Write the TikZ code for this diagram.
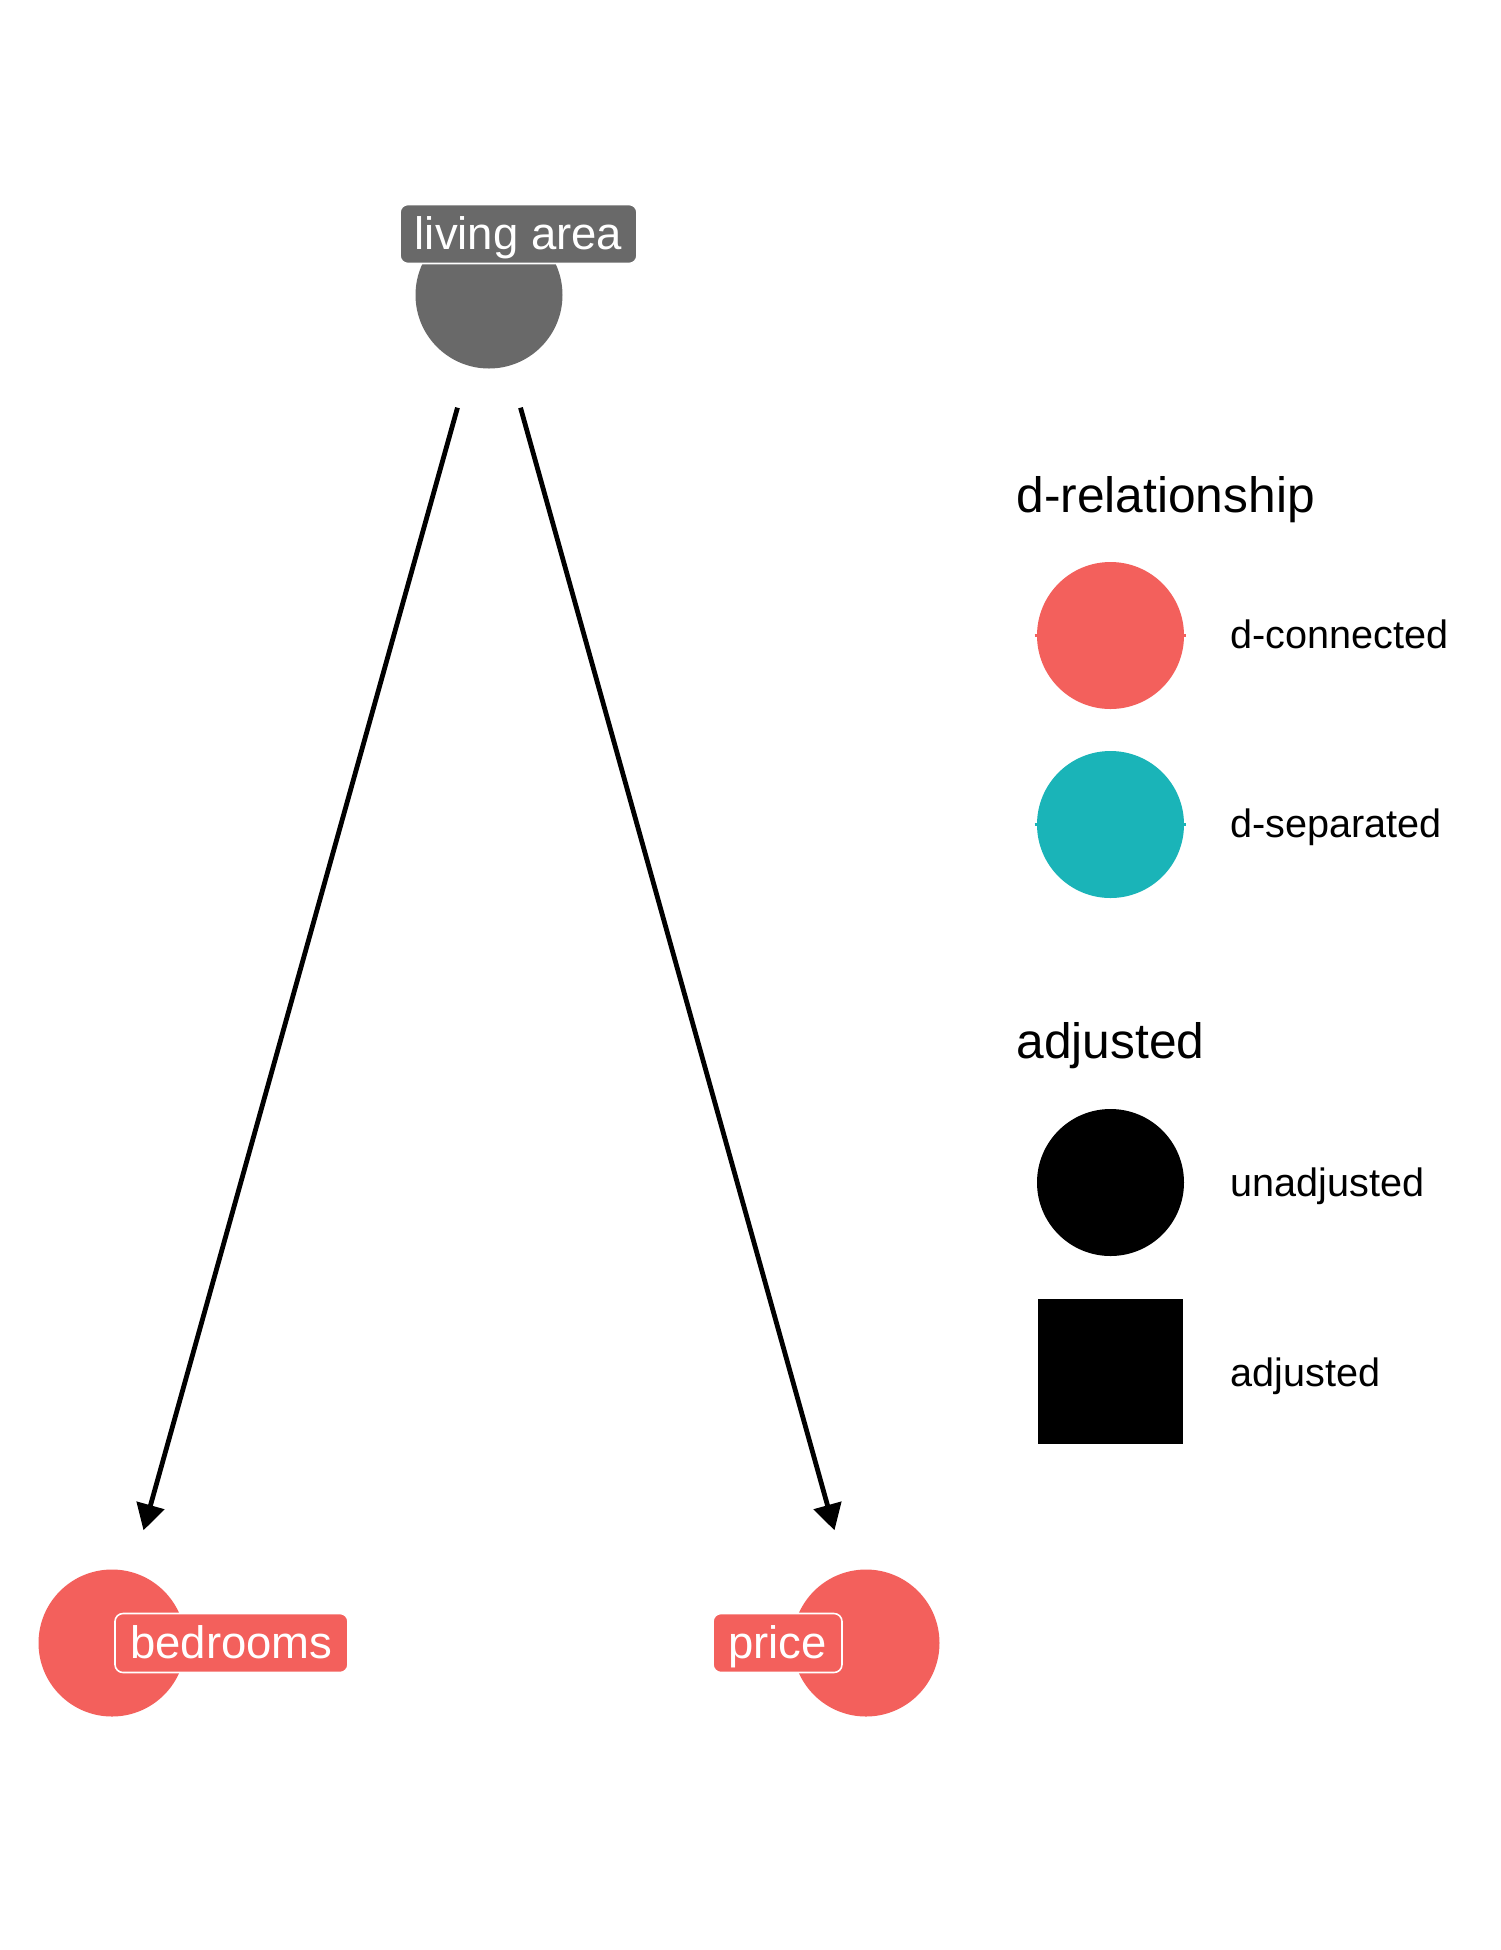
\documentclass[tikz,border=0pt]{standalone}
\usepackage{fontspec}
\setmainfont{Liberation Sans}
\usetikzlibrary{arrows.meta}
\definecolor{dcon}{HTML}{F3605C}
\definecolor{dsep}{HTML}{1AB4B8}
\definecolor{lagrey}{HTML}{696969}
\begin{document}
\begin{tikzpicture}[x=0.5pt,y=-0.5pt,
  dagnode/.style={circle,minimum size=73.5pt,inner sep=0pt,draw=none},
  lbl/.style={rounded corners=4pt,draw=white,line width=0.8pt,text=white,inner sep=0pt,
    minimum height=29.5pt,text height=16.5pt,text depth=1.5pt,
    font=\fontsize{22.75}{26}\selectfont},
  dagedge/.style={line width=2.4pt,-{Triangle[length=13pt,width=14pt]},
    shorten <=58.5pt,shorten >=58.5pt},
  legtitle/.style={anchor=base west,inner sep=0pt,font=\fontsize{24.85}{28}\selectfont},
  leglab/.style={anchor=base west,inner sep=0pt,font=\fontsize{19.8}{23}\selectfont},
  legc/.style={circle,minimum size=73.5pt,inner sep=0pt,draw=none},
  legs/.style={rectangle,minimum size=72.5pt,inner sep=0pt,draw=none,fill=black}
]
\path[use as bounding box,fill=white] (0,0) rectangle (1500,1950);

% DAG nodes
\node[dagnode,fill=lagrey] (la) at (489,295) {};
\node[dagnode,fill=dcon] (br) at (112,1643) {};
\node[dagnode,fill=dcon] (pr) at (866,1643) {};

% edges
\draw[dagedge] (la.center) -- (br.center);
\draw[dagedge] (la.center) -- (pr.center);

% labels
\node[lbl,fill=lagrey,minimum width=118.5pt] (lal) at (518.5,234) {living area};
\node[lbl,fill=dcon,minimum width=116.5pt] (brl) at (231.5,1643) {bedrooms};
\node[lbl,fill=dcon,minimum width=64.5pt] (prl) at (777.5,1643) {price};

% legend: d-relationship
\node[legtitle] (t1) at (1016,512) {d-relationship};
\node[legc,fill=dcon] (k1) at (1110.5,635.5) {};
\draw[dcon,line width=1.5pt] ([xshift=-1pt]k1.west) -- ([xshift=1pt]k1.east);
\node[leglab] (l1) at (1230,648) {d-connected};
\node[legc,fill=dsep] (k2) at (1110.5,824.5) {};
\draw[dsep,line width=1.5pt] ([xshift=-1pt]k2.west) -- ([xshift=1pt]k2.east);
\node[leglab] (l2) at (1230,837) {d-separated};

% legend: adjusted
\node[legtitle] (t2) at (1016,1058) {adjusted};
\node[legc,fill=black] (k3) at (1110.5,1182.5) {};
\node[leglab] (l3) at (1230,1196) {unadjusted};
\node[legs] (k4) at (1110.5,1371.5) {};
\node[leglab] (l4) at (1230,1386) {adjusted};
\end{tikzpicture}
\end{document}
